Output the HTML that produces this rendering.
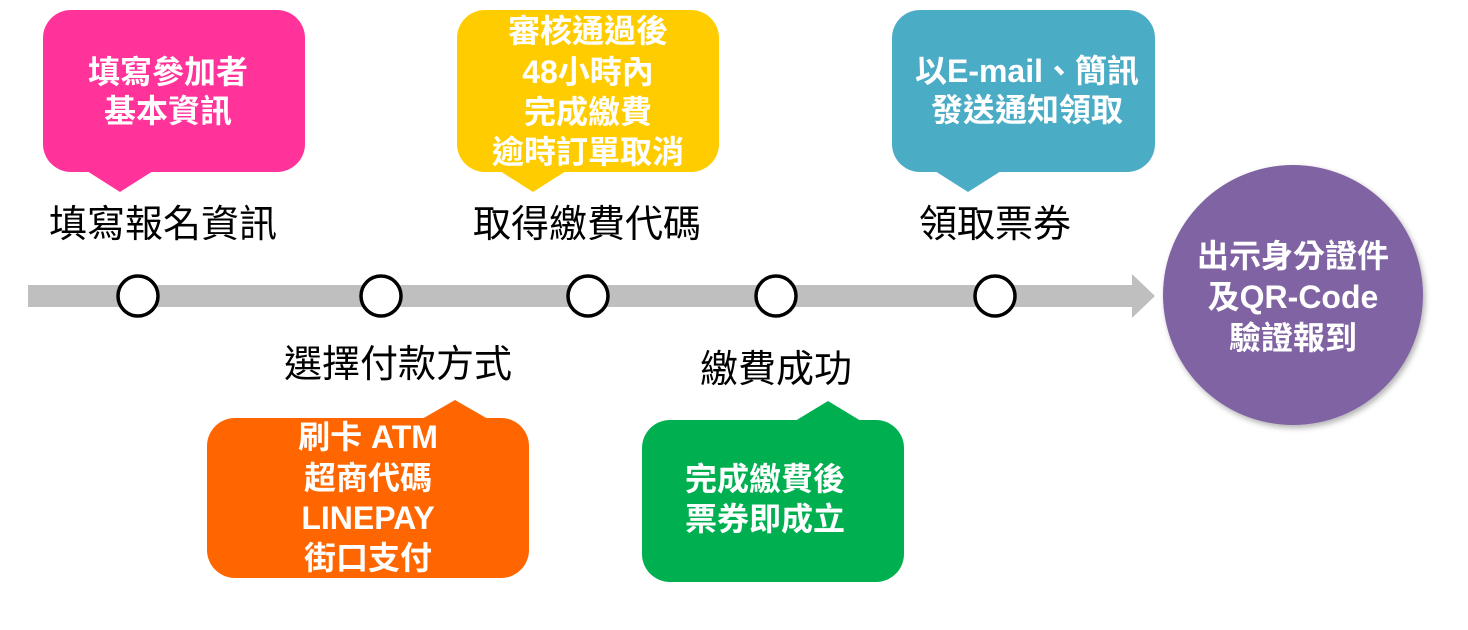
<!DOCTYPE html>
<html><head><meta charset="utf-8"><style>
body{margin:0;background:#fff;}
svg text{font-family:"Liberation Sans","Noto Sans CJK TC",sans-serif;}
.w{fill:#fff;font-weight:bold;font-size:32px;text-anchor:middle;}
.k{fill:#000;font-size:38px;text-anchor:middle;}
</style></head><body>
<svg width="1468" height="625" viewBox="0 0 1468 625" xmlns="http://www.w3.org/2000/svg">
<defs><filter id="s" x="-10%" y="-10%" width="120%" height="120%"><feDropShadow dx="2" dy="3" stdDeviation="3" flood-opacity="0.3"/></filter></defs>
<rect x="28" y="285" width="1106" height="22" fill="#bfbfbf"/>
<polygon points="1132,274 1155,296 1132,318" fill="#bfbfbf"/>
<g fill="#fff" stroke="#000" stroke-width="3.5">
<circle cx="138" cy="296" r="20"/><circle cx="381" cy="296" r="20"/><circle cx="588" cy="296" r="20"/><circle cx="776" cy="296" r="20"/><circle cx="995" cy="296" r="20"/>
</g>
<rect x="43" y="10" width="262" height="162" rx="28" fill="#ff3399"/>
<polygon points="87,171 153,171 120,192" fill="#ff3399"/>
<text class="w" x="168" y="83">填寫參加者</text><text class="w" x="168" y="122">基本資訊</text>
<rect x="457" y="10" width="262" height="162" rx="28" fill="#ffcc00"/>
<polygon points="500,171 566,171 533,192" fill="#ffcc00"/>
<text class="w" x="588" y="42">審核通過後</text><text class="w" x="588" y="83">48小時內</text><text class="w" x="588" y="123">完成繳費</text><text class="w" x="588" y="163">逾時訂單取消</text>
<rect x="892" y="10" width="263" height="162" rx="28" fill="#4bacc6"/>
<polygon points="935,171 1001,171 968,192" fill="#4bacc6"/>
<text class="w" x="1027" y="82">以E-mail、簡訊</text><text class="w" x="1027" y="121">發送通知領取</text>
<rect x="207" y="418" width="322" height="160" rx="28" fill="#ff6600"/>
<polygon points="422,419 488,419 455,400" fill="#ff6600"/>
<text class="w" x="368" y="448">刷卡  ATM</text><text class="w" x="368" y="489">超商代碼</text><text class="w" x="368" y="529">LINEPAY</text><text class="w" x="368" y="569">街口支付</text>
<rect x="642" y="420" width="262" height="162" rx="28" fill="#00b050"/>
<polygon points="795,421 861,421 828,401" fill="#00b050"/>
<text class="w" x="765" y="490">完成繳費後</text><text class="w" x="765" y="530">票券即成立</text>
<text class="k" x="163" y="237">填寫報名資訊</text>
<text class="k" x="587" y="237">取得繳費代碼</text>
<text class="k" x="995" y="237">領取票券</text>
<text class="k" x="398" y="377">選擇付款方式</text>
<text class="k" x="776" y="382">繳費成功</text>
<circle cx="1293" cy="295" r="130" fill="#8064a2" filter="url(#s)"/>
<text class="w" x="1293" y="267">出示身分證件</text><text class="w" x="1293" y="308">及QR-Code</text><text class="w" x="1293" y="349">驗證報到</text>
</svg>
</body></html>
